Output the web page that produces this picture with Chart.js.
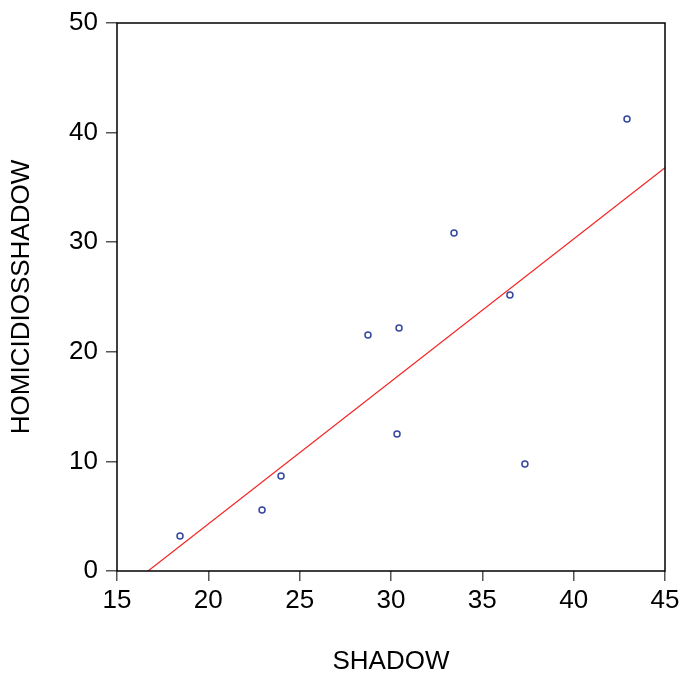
<!DOCTYPE html>
<html>
<head>
<meta charset="utf-8">
<script src="https://cdn.jsdelivr.net/npm/chart.js@4.4.1/dist/chart.umd.min.js"></script>
<style>
html,body{margin:0;padding:0;background:#fff;}
#wrap{width:680px;height:675px;}
</style>
</head>
<body>
<div id="wrap"><canvas id="c" width="680" height="675"></canvas></div>
<script>
// values
const shadow = [18.45, 22.94, 23.98, 28.74, 30.44, 30.33, 33.45, 36.51, 37.33, 42.92];
const homicidios = [3.19, 5.57, 8.67, 21.53, 22.17, 12.5, 30.84, 25.18, 9.76, 41.24];
const fitX = [16.7, 45];
const fitY = [0, 36.8];
const xTicks = [15, 20, 25, 30, 35, 40, 45];
const yTicks = [0, 10, 20, 30, 40, 50];

const FONT = 'Liberation Sans, Arial, sans-serif';

const boxPlugin = {
    id: 'box',
    afterDraw(chart){
        const a = chart.chartArea, ctx = chart.ctx;
        ctx.save();
        ctx.strokeStyle = '#000';
        ctx.lineWidth = 1.5;
        ctx.strokeRect(a.left, a.top, a.right - a.left, a.bottom - a.top);
        ctx.restore();
    }
};

new Chart(document.getElementById('c').getContext('2d'), {
    type: 'scatter',
    data: {
        datasets: [
            {
                data: fitX.map((x, i) => ({x: x, y: fitY[i]})),
                showLine: true,
                borderColor: '#f42424',
                borderWidth: 1.2,
                pointRadius: 0,
                order: 2
            },
            {
                data: shadow.map((x, i) => ({x: x, y: homicidios[i]})),
                pointStyle: 'circle',
                pointRadius: 3,
                pointBorderWidth: 1.5,
                pointBorderColor: '#3446a0',
                pointBackgroundColor: 'rgba(0,0,0,0)',
                order: 1
            }
        ]
    },
    options: {
        responsive: false,
        animation: false,
        layout: {padding: {top: 23, right: 15, left: 0, bottom: 0}},
        plugins: {legend: {display: false}, tooltip: {enabled: false}},
        scales: {
            x: {
                type: 'linear',
                min: 15, max: 45,
                afterBuildTicks: s => { s.ticks = xTicks.map(v => ({value: v})); },
                afterFit: s => { s.height = 104; s.paddingRight = 0; s.paddingLeft = 0; },
                grid: {drawOnChartArea: false, tickLength: 10, color: '#555', lineWidth: 1.5},
                border: {display: false},
                ticks: {color: '#000', font: {family: FONT, size: 26}, padding: 4, maxRotation: 0},
                title: {display: true, text: 'SHADOW', color: '#000', font: {family: FONT, size: 26, lineHeight: 1}, padding: {top: 0, bottom: 0}}
            },
            y: {
                type: 'linear',
                min: 0, max: 50,
                afterBuildTicks: s => { s.ticks = yTicks.map(v => ({value: v})); },
                afterFit: s => { s.width = 117; s.paddingTop = 0; s.paddingBottom = 0; },
                grid: {drawOnChartArea: false, tickLength: 11, color: '#555', lineWidth: 1.5},
                border: {display: false},
                ticks: {color: '#000', font: {family: FONT, size: 26}, padding: 8},
                title: {display: true, text: 'HOMICIDIOSSHADOW', color: '#000', font: {family: FONT, size: 26, lineHeight: 1}, padding: {top: 9, bottom: 0}}
            }
        }
    },
    plugins: [boxPlugin]
});
</script>
</body>
</html>
